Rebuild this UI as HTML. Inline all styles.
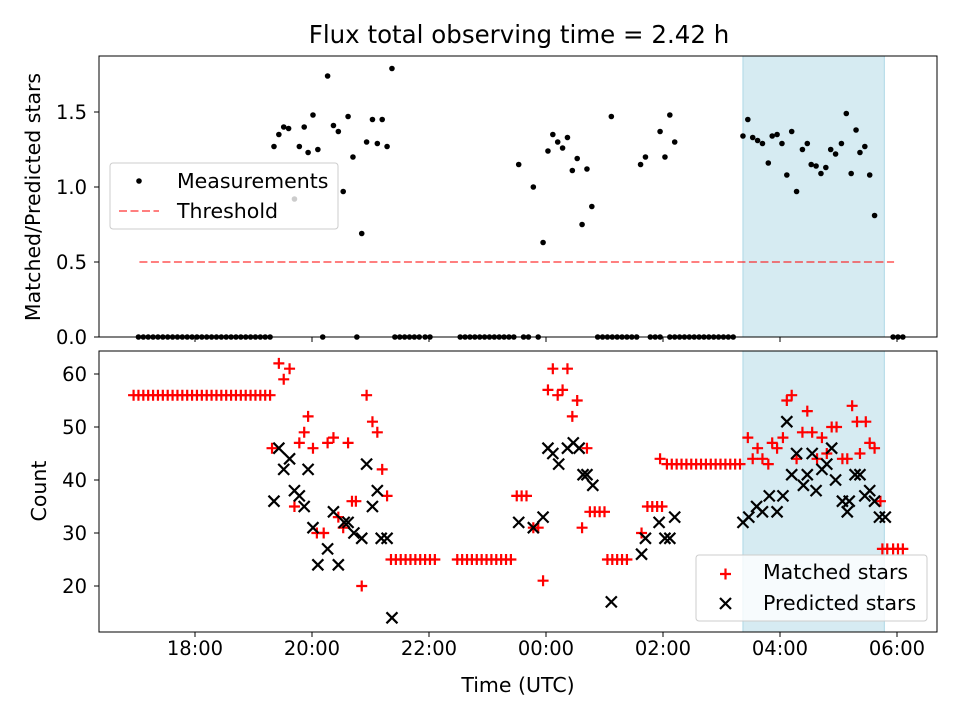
<!DOCTYPE html>
<html><head><meta charset="utf-8"><style>
html,body{margin:0;padding:0;background:#fff;}
svg{display:block;font-family:"DejaVu Sans","Liberation Sans",sans-serif;}
</style></head><body>
<svg id="chart" width="960" height="720" viewBox="0 0 960 720"></svg>
<script>
// minutes after 18:00 UTC
const ratioZeroT=[-58,-53,-48,-43,-38,-33,-28,-23,-18,-13,-8,-3,2,7,12,17,22,27,32,37,42,47,52,57,62,67,72,77,131,166,205,210,215,220,225,230,236,241,272,277,282,287,292,297,302,307,312,317,322,327,337,342,352,413,418,423,428,433,438,443,448,453,467,472,477,487,492,497,502,507,512,517,522,527,532,537,542,547,552,716,721,726];
const ratioT=[81,86,91,96,102,107,112,116,121,126,136,142,147,152,157,162,171,176,182,187,192,197,202,332,347,357,362,367,372,377,382,387,392,397,402,407,427,457,462,477,482,487,492,562,567,572,577,582,588,592,597,602,607,612,617,623,628,632,637,642,647,652,657,663,668,673,678,682,687,692,697];
const ratioV=[1.27,1.35,1.40,1.39,0.92,1.27,1.40,1.23,1.48,1.25,1.74,1.41,1.37,0.97,1.47,1.20,0.69,1.30,1.45,1.29,1.45,1.27,1.79,1.15,1.00,0.63,1.24,1.35,1.30,1.26,1.33,1.11,1.19,0.75,1.12,0.87,1.47,1.15,1.20,1.37,1.20,1.48,1.30,1.34,1.45,1.33,1.31,1.29,1.16,1.34,1.35,1.29,1.08,1.37,0.97,1.25,1.29,1.15,1.14,1.09,1.13,1.25,1.22,1.29,1.49,1.09,1.38,1.23,1.27,1.08,0.81];
const matchedT=[-63,-58,-53,-48,-43,-38,-33,-28,-23,-18,-13,-8,-3,2,7,12,17,22,27,32,37,42,47,52,57,62,67,72,77,79,86,91,97,102,107,112,116,121,125,132,136,142,147,152,157,161,165,171,176,182,187,192,197,201,206,211,216,221,226,231,236,241,246,269,274,279,284,289,294,299,304,309,314,319,324,330,335,340,347,352,357,362,367,372,377,382,387,392,397,402,405,410,415,420,423,428,433,438,443,458,464,469,474,479,477,484,489,494,499,504,509,514,519,524,529,534,539,544,549,554,559,567,572,577,582,588,592,597,603,607,612,617,623,628,633,638,643,648,653,658,664,669,674,679,682,688,692,697,703,705,710,716,721,726];
const matchedV=[56,56,56,56,56,56,56,56,56,56,56,56,56,56,56,56,56,56,56,56,56,56,56,56,56,56,56,56,56,46,62,59,61,35,47,49,52,46,30,30,47,48,33,31,47,36,36,20,56,51,49,42,37,25,25,25,25,25,25,25,25,25,25,25,25,25,25,25,25,25,25,25,25,25,25,37,37,37,31,31,21,57,61,56,57,61,52,55,31,46,34,34,34,34,25,25,25,25,25,30,35,35,35,35,44,43,43,43,43,43,43,43,43,43,43,43,43,43,43,43,43,48,44,46,44,43,47,46,48,55,56,44,49,53,49,44,48,45,50,50,44,44,54,51,45,51,47,46,36,27,27,27,27,27];
const predT=[81,86,91,97,102,107,112,116,121,126,136,142,147,153,157,163,171,176,182,187,191,197,202,332,347,357,362,367,373,382,388,394,398,402,408,427,458,462,476,482,487,492,562,568,576,582,589,597,603,607,612,617,624,628,633,637,643,648,653,657,664,669,671,677,682,687,692,697,702,708];
const predV=[36,46,42,44,38,37,35,42,31,24,27,34,24,32,32,30,29,43,35,38,29,29,14,32,31,33,46,45,43,46,47,46,41,41,39,17,26,29,32,29,29,33,32,33,35,34,37,34,37,51,41,45,39,41,45,38,42,43,46,40,36,34,36,41,41,37,38,36,33,33];
const xTickT=[0,120,240,360,480,600,720];
const xTickLabels=["18:00","20:00","22:00","00:00","02:00","04:00","06:00"];
const topTicks=[0,0.5,1.0,1.5];
const botTicks=[20,30,40,50,60];
const shadeRange=[562,707];
const thresholdRange=[-57,717];
const thresholdValue=0.5;

const NS="http://www.w3.org/2000/svg";
const svg=document.getElementById('chart');
function mk(tag,attrs,parent){const e=document.createElementNS(NS,tag);for(const k in attrs)e.setAttribute(k,attrs[k]);(parent||svg).appendChild(e);return e;}
const L=99,R=937,T1=56,B1=337,T2=351,B2=632;
const FS='19.5';
const LS='20.5';
const MK=5.5;
const xS=m=>195+m*58.5/60;
const yTop=v=>337-v*150;
const yBot=c=>374+(60-c)*5.3;

let t=mk('text',{x:519,y:43,'font-size':'24.5','text-anchor':'middle',fill:'#000'});t.textContent='Flux total observing time = 2.42 h';



[[T1,B1,'top-shade'],[T2,B2,'bottom-shade']].forEach(([a,b,n])=>{
 const r=mk('rect',{x:xS(shadeRange[0]),y:a,width:xS(shadeRange[1])-xS(shadeRange[0]),height:b-a,fill:'#add8e6','fill-opacity':'0.5',stroke:'#add8e6','stroke-width':'1'});
 
 
});

const th=mk('line',{x1:xS(thresholdRange[0]),x2:xS(thresholdRange[1]),y1:yTop(thresholdValue),y2:yTop(thresholdValue),stroke:'#ff0000','stroke-opacity':'0.5','stroke-width':'2','stroke-dasharray':'8,3.5'});



const gTop=mk('g',{});


ratioZeroT.forEach(m=>{const c=mk('circle',{cx:xS(m),cy:yTop(0),r:2.8,fill:'#000'},gTop);});
ratioT.forEach((m,i)=>{const c=mk('circle',{cx:xS(m),cy:yTop(ratioV[i]),r:2.8,fill:'#000'},gTop);});

const defs=mk('defs',{});
const cp=mk('clipPath',{id:'cb'},defs);mk('rect',{x:L,y:T2,width:R-L,height:B2-T2},cp);
const gM=mk('g',{'clip-path':'url(#cb)'});


matchedT.forEach((m,i)=>{const x=xS(m),y=yBot(matchedV[i]);
 const p=mk('path',{d:`M${x-MK},${y}H${x+MK}M${x},${y-MK}V${y+MK}`,stroke:'#ff0000','stroke-width':'2.2',fill:'none'},gM);
 
 });
const gP=mk('g',{'clip-path':'url(#cb)'});


predT.forEach((m,i)=>{const x=xS(m),y=yBot(predV[i]);
 const p=mk('path',{d:`M${x-MK},${y-MK}L${x+MK},${y+MK}M${x-MK},${y+MK}L${x+MK},${y-MK}`,stroke:'#000','stroke-width':'2.2',fill:'none'},gP);
 
 });

[[T1,B1,'top-axes-frame'],[T2,B2,'bottom-axes-frame']].forEach(([a,b,n])=>{
 const r=mk('rect',{x:L,y:a,width:R-L,height:b-a,fill:'none',stroke:'#000','stroke-width':'1'});
 });

xTickT.forEach((m,i)=>{const x=xS(m);
 mk('line',{x1:x,x2:x,y1:B1,y2:B1+5,stroke:'#000'});
 mk('line',{x1:x,x2:x,y1:B2,y2:B2+5,stroke:'#000'});
 const tx=mk('text',{x:x,y:655,'font-size':FS,'text-anchor':'middle'});tx.textContent=xTickLabels[i];
 });
topTicks.forEach(v=>{const y=yTop(v);mk('line',{x1:L-5,x2:L,y1:y,y2:y,stroke:'#000'});
 const tx=mk('text',{x:L-12,y:y+7,'font-size':FS,'text-anchor':'end'});tx.textContent=v.toFixed(1);
 });
botTicks.forEach(v=>{const y=yBot(v);mk('line',{x1:L-5,x2:L,y1:y,y2:y,stroke:'#000'});
 const tx=mk('text',{x:L-12,y:y+7,'font-size':FS,'text-anchor':'end'});tx.textContent=v;
 });

let a1=mk('text',{x:0,y:0,'font-size':LS,'text-anchor':'middle',transform:'translate(40,197) rotate(-90)'});a1.textContent='Matched/Predicted stars';

let a2=mk('text',{x:0,y:0,'font-size':LS,'text-anchor':'middle',transform:'translate(46,491) rotate(-90)'});a2.textContent='Count';

let a3=mk('text',{x:518,y:692,'font-size':LS,'text-anchor':'middle'});a3.textContent='Time (UTC)';


const lg1=mk('g',{});


mk('rect',{x:110,y:163,width:228,height:66,rx:3,fill:'#fff','fill-opacity':'0.8',stroke:'#ccc'},lg1);
mk('circle',{cx:139,cy:181,r:2.8,fill:'#000'},lg1);
let l1=mk('text',{x:177,y:188,'font-size':LS},lg1);l1.textContent='Measurements';
mk('line',{x1:119,x2:159,y1:211,y2:211,stroke:'#ff0000','stroke-opacity':'0.5','stroke-width':'2','stroke-dasharray':'8,3.5'},lg1);
let l2=mk('text',{x:177,y:218,'font-size':LS},lg1);l2.textContent='Threshold';

const lg2=mk('g',{});


mk('rect',{x:696,y:555,width:231,height:66,rx:3,fill:'#fff','fill-opacity':'0.8',stroke:'#ccc'},lg2);
mk('path',{d:'M720,574H731M725.5,568.5V579.5',stroke:'#ff0000','stroke-width':'2.2'},lg2);
let l3=mk('text',{x:763,y:579,'font-size':LS},lg2);l3.textContent='Matched stars';
mk('path',{d:'M720,598L731,609M720,609L731,598',stroke:'#000','stroke-width':'2.2'},lg2);
let l4=mk('text',{x:763,y:610,'font-size':LS},lg2);l4.textContent='Predicted stars';
</script>
</body></html>
